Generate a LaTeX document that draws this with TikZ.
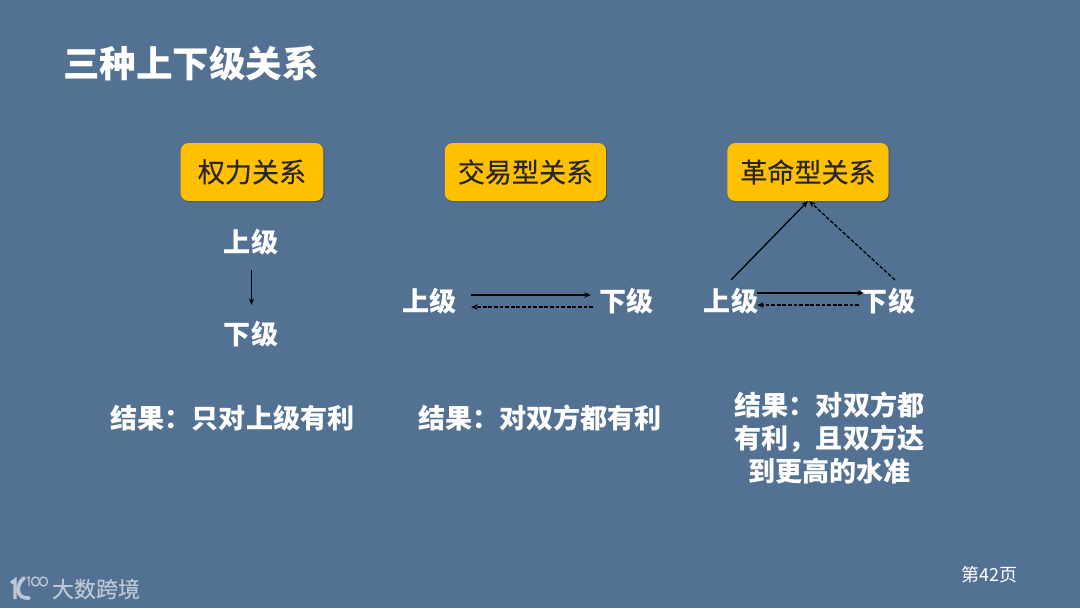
\documentclass[tikz,border=0pt]{standalone}
\usepackage{fontspec}
\setmainfont{Noto Sans CJK SC}
\newfontfamily\boxfont[FakeBold=0.25]{Noto Sans CJK SC}
\usetikzlibrary{arrows.meta,shadows}
\definecolor{slidebg}{RGB}{83,113,146}
\definecolor{boxfill}{RGB}{255,192,0}
\definecolor{logogray}{RGB}{190,200,212}

\tikzset{
  relbox/.style={
    draw=none,
    fill=boxfill,
    rounded corners=6pt,
    minimum height=43.5pt,
    inner sep=0pt,
    text=black!85,
    font=\boxfont\fontsize{20.3}{24}\selectfont,
    drop shadow={shadow xshift=0.8pt, shadow yshift=-0.8pt, opacity=0.3, fill=black}
  },
  rank/.style={
    text=white,
    inner sep=0pt,
    font=\fontsize{20.3}{24}\selectfont\bfseries
  },
  result/.style={
    text=white,
    inner sep=0pt,
    align=center,
    font=\fontsize{20.3}{24.4}\selectfont\bfseries
  },
  link/.style={
    draw=black,
    line width=0.95pt,
    -{Stealth[length=5pt,width=4pt]}
  },
  backlink/.style={
    link,
    line width=0.95pt,
    dash pattern=on 2.8pt off 1.4pt
  }
}

\begin{document}
\begin{tikzpicture}[x=0.75pt,y=-0.75pt]
  \useasboundingbox[fill=slidebg] (0,0) rectangle (1080,608);

  \node[text=white, inner sep=0pt, font=\fontsize{27.4}{30}\selectfont\bfseries] (title) at (191,64) {三种上下级关系};

  \node[relbox, minimum width=107pt] (power) at (252,172) {权力关系};
  \node[relbox, minimum width=121pt] (trade) at (525.5,172) {交易型关系};
  \node[relbox, minimum width=121pt] (revo) at (808,172) {革命型关系};

  % first column
  \node[rank] (up1) at (251,242) {上级};
  \node[rank] (down1) at (251,334) {下级};
  \coordinate (a1) at (251.5,270);
  \coordinate (a2) at (251.5,305);
  \draw[link] (a1) -- (a2);

  % second column
  \node[rank] (up2) at (429.5,301) {上级};
  \node[rank] (down2) at (626.5,301) {下级};
  \coordinate (b1) at (471,295);
  \coordinate (b2) at (591,295);
  \coordinate (b3) at (593,307);
  \coordinate (b4) at (471,307);
  \draw[link] (b1) -- (b2);
  \draw[backlink] (b3) -- (b4);

  % third column
  \node[rank] (up3) at (731,301) {上级};
  \node[rank] (down3) at (888,301) {下级};
  \coordinate (c1) at (757,293);
  \coordinate (c2) at (864,293);
  \coordinate (c3) at (859,305);
  \coordinate (c4) at (757,305);
  \coordinate (c5) at (731,280);
  \coordinate (c6) at (808,201);
  \coordinate (c7) at (895,280);
  \coordinate (c8) at (809,201);
  \draw[link] (c1) -- (c2);
  \draw[backlink] (c3) -- (c4);
  \draw[link] (c5) -- (c6);
  \draw[backlink] (c7) -- (c8);

  \node[result] (res1) at (232.5,418) {结果：只对上级有利};
  \node[result] (res2) at (540,418) {结果：对双方都有利};
  \node[result] (res3) at (829.5,438) {结果：对双方都\\有利，且双方达\\到更高的水准};

  \node[text=white, inner sep=0pt, font=\fontsize{13.5}{16}\selectfont] (page) at (989,575) {第42页};

  % logo
  \draw[logogray, line width=2.4pt] (11,583) -- (15,580) -- (15,599);
  \draw[logogray, line width=2.8pt, line cap=round] (24,578) .. controls (16,584) and (15,599) .. (29,598);
  \draw[logogray, line width=1pt] (27,578) -- (29,577) -- (29,586);
  \draw[logogray, line width=1pt] (35.5,581.5) ellipse [x radius=4, y radius=4.5];
  \draw[logogray, line width=1pt] (43.5,581.5) ellipse [x radius=4, y radius=4.5];
  \node[text=logogray, inner sep=0pt, font=\boxfont\fontsize{16.5}{18}\selectfont] (brand) at (96,589) {大数跨境};
\end{tikzpicture}
\end{document}
